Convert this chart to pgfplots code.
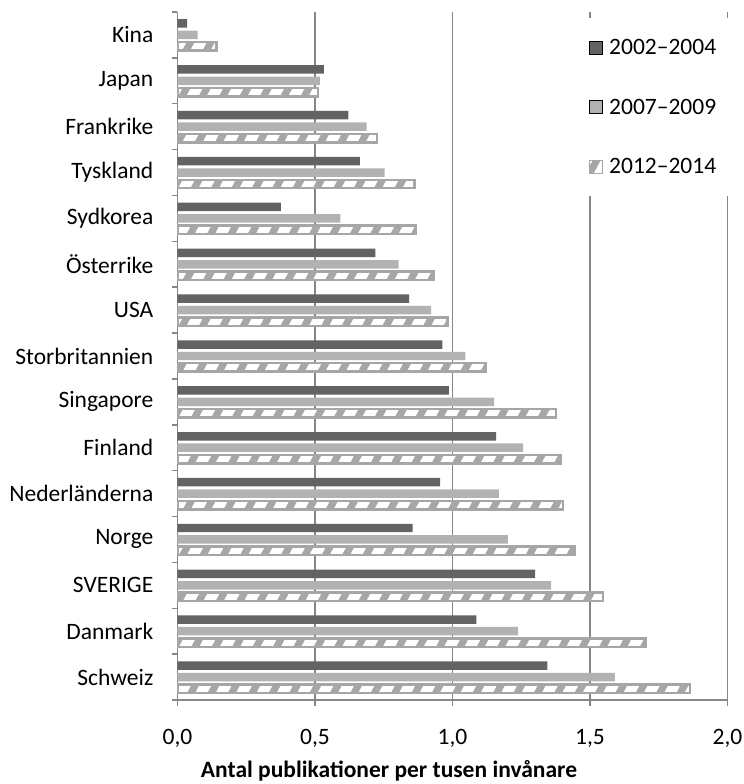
\documentclass[border=0pt]{standalone}
\usepackage{fontspec}
\setmainfont{Carlito}
\usepackage{pgfplots}
\pgfplotsset{compat=1.18}
\usetikzlibrary{patterns.meta}
\definecolor{dark}{RGB}{99,99,99}
\definecolor{mid}{RGB}{178,178,178}
\definecolor{hatch}{RGB}{166,166,166}
\definecolor{axgray}{RGB}{134,134,134}
\newcommand\chartfont{\fontsize{23.5bp}{28bp}\selectfont}

\begin{document}
\begin{tikzpicture}
\useasboundingbox (-177.5bp,-84bp) rectangle (566.5bp,700bp);
\begin{axis}[
  at={(0,0)}, anchor=south west,
  scale only axis, width=550bp, height=688bp,
  xbar, bar width=0.185,
  xmin=0, xmax=2, ymin=-0.5, ymax=14.5,
  axis x line*=bottom, axis y line*=left,
  axis line style={axgray, line width=1.5bp},
  xtick={0,0.5,1,1.5,2},
  xmajorgrids, grid style={axgray, line width=1.5bp},
  tick align=outside, major tick length=5.5bp,
  tick style={axgray, line width=1.5bp},
  ytick={-0.5,0.5,...,14.5}, yticklabels={},
  extra y ticks={0,1,2,3,4,5,6,7,8,9,10,11,12,13,14},
  extra y tick labels={Schweiz,Danmark,SVERIGE,Norge,Nederländerna,Finland,Singapore,Storbritannien,USA,Österrike,Sydkorea,Tyskland,Frankrike,Japan,Kina},
  extra y tick style={major tick length=0pt},
  tick label style={font=\chartfont, inner sep=0pt},
  yticklabel style={anchor=east, xshift=-24bp},
  xticklabel style={anchor=base, yshift=-39bp},
  /pgf/number format/.cd, fixed, fixed zerofill, precision=1, use comma, assume math mode=true,
  /pgfplots/.cd,
  xlabel={\bfseries Antal publikationer per tusen invånare},
  xlabel style={font=\chartfont, at={(axis description cs:0.3845,0)}, anchor=base, yshift=-77.5bp},
  legend style={at={(axis description cs:0.73,0.9913)}, anchor=north west,
    fill=white, draw=none, font=\chartfont, inner xsep=10bp, inner ysep=19bp,
    row sep=39bp, nodes={inner sep=2bp},
    /tikz/every odd column/.append style={column sep=4bp}},
  legend cell align=left,
  legend image code/.code={\draw[line width=1bp,#1] (0bp,-6.5bp) rectangle (13bp,6.5bp);},
]
\addplot[draw=none, fill=dark, bar shift=0.25] coordinates {
  (1.345,0) (1.087,1) (1.300,2) (0.855,3) (0.955,4) (1.159,5) (0.987,6) (0.963,7)
  (0.842,8) (0.720,9) (0.376,10) (0.663,11) (0.621,12) (0.532,13) (0.035,14)
};
\addplot[draw=none, fill=mid, bar shift=0] coordinates {
  (1.590,0) (1.239,1) (1.359,2) (1.201,3) (1.169,4) (1.257,5) (1.151,6) (1.047,7)
  (0.922,8) (0.804,9) (0.592,10) (0.753,11) (0.688,12) (0.518,13) (0.073,14)
};
\addplot[draw=hatch, line width=2.5bp, fill=white, bar shift=-0.25,
  postaction={pattern={Lines[angle=62, distance=18bp, line width=7bp]}, pattern color=hatch}]
  coordinates {
  (1.863,0) (1.701,1) (1.548,2) (1.444,3) (1.401,4) (1.394,5) (1.377,6) (1.120,7)
  (0.981,8) (0.932,9) (0.868,10) (0.861,11) (0.726,12) (0.511,13) (0.141,14)
};
\legend{2002--2004,2007--2009,2012--2014}
\end{axis}
\end{tikzpicture}
\end{document}
